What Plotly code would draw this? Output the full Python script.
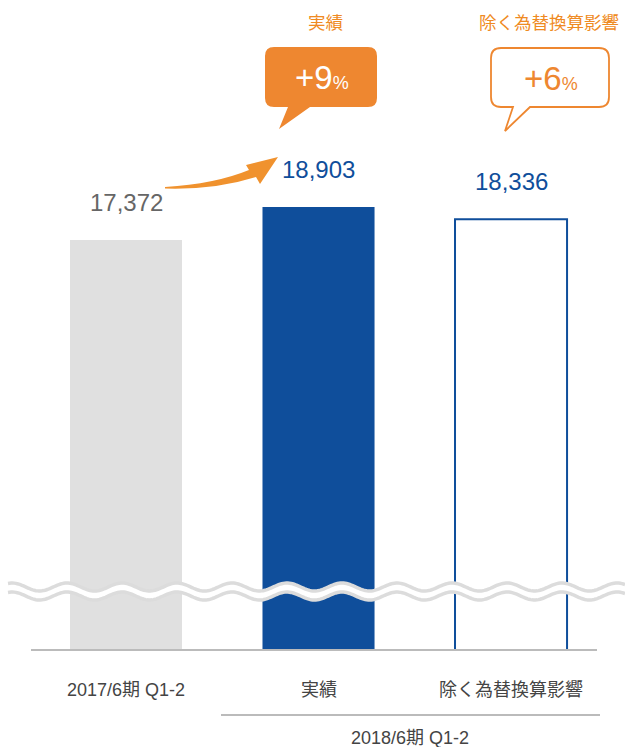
import numpy as np
import plotly.graph_objects as go

# ---- data ----
categories = ["2017/6期 Q1-2", "実績", "除く為替換算影響"]
values = [17372, 18903, 18336]
value_labels = ["17,372", "18,903", "18,336"]
group_label = "2018/6期 Q1-2"
callout_titles = ["実績", "除く為替換算影響"]
callout_pcts = ["+9", "+6"]

W, H = 625, 747
PLOT_H = 650  # plot area from top (0) to baseline (650)
Y_MIN, Y_MAX = -1652, 28508
X_MIN, X_MAX = -0.6545, 2.592

GRAY_BAR = "#e0e0e0"
BLUE = "#0f4e9b"
ORANGE = "#ee8730"
ORANGE_TXT = "#ef8a22"
FONT = "Liberation Sans, Arial, Noto Sans CJK JP, sans-serif"


def px(xp):
    return xp / W


def py(yp):
    return (PLOT_H - yp) / PLOT_H


fig = go.Figure()

xs = list(range(len(categories)))
fig.add_trace(go.Bar(
    x=xs, y=[v - Y_MIN for v in values], base=[Y_MIN] * 3,
    width=0.582,
    marker=dict(color=[GRAY_BAR, BLUE, "#ffffff"],
                line=dict(color=[GRAY_BAR, BLUE, BLUE], width=[0, 0, 2])),
    hoverinfo="skip",
))

annotations = []
val_colors = ["#666666", BLUE, BLUE]
for i, (v, lab) in enumerate(zip(values, value_labels)):
    annotations.append(dict(x=i, y=v, xref="x", yref="y", text=lab, showarrow=False,
                            xanchor="center", yanchor="bottom", yshift=22,
                            font=dict(family=FONT, size=24, color=val_colors[i])))

# category labels
for i, c in enumerate(categories):
    annotations.append(dict(x=i, y=py(690), xref="x", yref="paper", text=c, showarrow=False,
                            xanchor="center", yanchor="middle",
                            font=dict(family=FONT, size=18, color="#444444")))
annotations.append(dict(x=px(410), y=py(738), xref="paper", yref="paper", text=group_label,
                        showarrow=False, xanchor="center", yanchor="middle",
                        font=dict(family=FONT, size=18, color="#444444")))

# callout titles
annotations.append(dict(x=px(325), y=py(23), xref="paper", yref="paper", text=callout_titles[0],
                        showarrow=False, xanchor="center", yanchor="middle",
                        font=dict(family=FONT, size=17.5, color=ORANGE_TXT)))
annotations.append(dict(x=px(549), y=py(23), xref="paper", yref="paper", text=callout_titles[1],
                        showarrow=False, xanchor="center", yanchor="middle",
                        font=dict(family=FONT, size=17.5, color=ORANGE_TXT)))
# callout numbers
annotations.append(dict(x=px(322), y=py(77), xref="paper", yref="paper",
                        text=callout_pcts[0] + "<span style='font-size:18px'>%</span>",
                        showarrow=False, xanchor="center", yanchor="middle",
                        font=dict(family=FONT, size=33, color="#ffffff")))
annotations.append(dict(x=px(551), y=py(78), xref="paper", yref="paper",
                        text=callout_pcts[1] + "<span style='font-size:18px'>%</span>",
                        showarrow=False, xanchor="center", yanchor="middle",
                        font=dict(family=FONT, size=33, color=ORANGE)))

shapes = []


def P(x, y):
    return f"{px(x):.5f},{py(y):.5f}"


def callout_path(x0, y0, x1, y1, r, tl, tr, tip):
    s = (f"M {P(x0 + r, y0)} L {P(x1 - r, y0)} Q {P(x1, y0)} {P(x1, y0 + r)} "
         f"L {P(x1, y1 - r)} Q {P(x1, y1)} {P(x1 - r, y1)} L {P(tr, y1)} L {P(*tip)} "
         f"L {P(tl, y1)} L {P(x0 + r, y1)} Q {P(x0, y1)} {P(x0, y1 - r)} "
         f"L {P(x0, y0 + r)} Q {P(x0, y0)} {P(x0 + r, y0)} Z")
    return s


shapes.append(dict(type="path", xref="paper", yref="paper",
                   path=callout_path(265, 47, 377, 107, 9, 288, 310, (279, 129)),
                   fillcolor=ORANGE, line=dict(width=0)))
shapes.append(dict(type="path", xref="paper", yref="paper",
                   path=callout_path(491, 48, 609, 107, 10, 513, 530, (505, 131)),
                   fillcolor="#ffffff", line=dict(color=ORANGE, width=1.8)))

# arrow
arrow = (f"M {P(165, 187)} Q {P(215, 184)} {P(249, 170)} L {P(246, 165)} L {P(278, 157)} "
         f"L {P(260, 184)} L {P(256, 177)} Q {P(215, 190)} {P(165, 188.5)} Z")
shapes.append(dict(type="path", xref="paper", yref="paper", path=arrow,
                   fillcolor="#f0922e", line=dict(width=0)))

# baseline and group line
shapes.append(dict(type="line", xref="paper", yref="paper", x0=px(31), x1=px(597),
                   y0=py(650), y1=py(650), line=dict(color="#bbbbbb", width=2)))
shapes.append(dict(type="line", xref="paper", yref="paper", x0=px(221), x1=px(600),
                   y0=py(715), y1=py(715), line=dict(color="#bbbbbb", width=2)))

# wavy axis break
wx = np.linspace(8, 625, 400)
top = 587 - 4 * np.cos(2 * np.pi * (wx - 67) / 55)
bot = 596 - 4 * np.cos(2 * np.pi * (wx - 67) / 55)
band = "M " + " L ".join(P(a, b) for a, b in zip(wx, top)) + " L " + \
       " L ".join(P(a, b) for a, b in zip(wx[::-1], bot[::-1])) + " Z"
shapes.append(dict(type="path", xref="paper", yref="paper", path=band,
                   fillcolor="#ffffff", line=dict(width=0)))
for yy in (top, bot):
    ln = "M " + " L ".join(P(a, b) for a, b in zip(wx, yy))
    shapes.append(dict(type="path", xref="paper", yref="paper", path=ln,
                       line=dict(color="#dcdcdc", width=3.5)))

fig.update_layout(
    width=W, height=H,
    margin=dict(l=0, r=0, t=0, b=H - PLOT_H),
    paper_bgcolor="#ffffff", plot_bgcolor="#ffffff",
    showlegend=False,
    xaxis=dict(range=[X_MIN, X_MAX], visible=False, fixedrange=True),
    yaxis=dict(range=[Y_MIN, Y_MAX], visible=False, fixedrange=True),
    annotations=annotations,
    shapes=shapes,
)

fig.write_html("out.html", config={"displayModeBar": False},
               post_script="document.body.style.margin='0';document.body.style.overflow='hidden';")
